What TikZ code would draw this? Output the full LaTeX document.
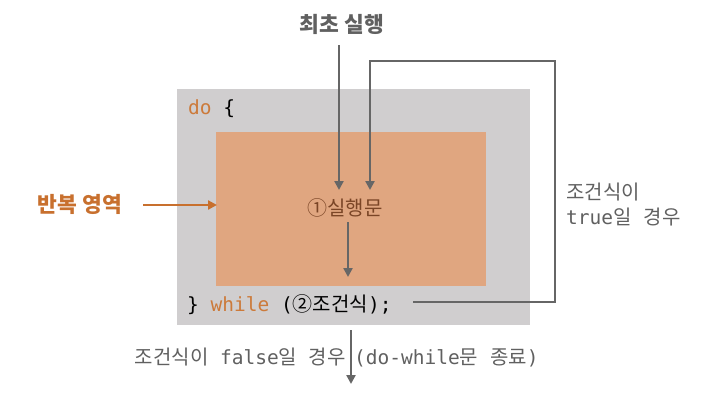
\documentclass[tikz,border=0pt]{standalone}
\usepackage{fontspec}
\setmainfont{Noto Sans CJK KR}
\newfontfamily\kr{Noto Sans CJK KR}
\setmonofont{DejaVu Sans Mono}
\usetikzlibrary{arrows.meta}
\definecolor{boxgray}{HTML}{D0CECF}
\definecolor{boxorange}{HTML}{E0A680}
\definecolor{kwor}{HTML}{CC7A3A}
\definecolor{lblor}{HTML}{C8702E}
\definecolor{arrgray}{HTML}{666666}
\definecolor{txtgray}{HTML}{606060}
\definecolor{brown}{HTML}{7A4526}
\newcommand{\krc}[1]{{\fontsize{20}{22}\selectfont\kr #1}}
\tikzset{
  conn/.style={draw=arrgray,line width=2.6pt,-{Triangle[length=9pt,width=9pt]}},
  lbl/.style={inner sep=0pt,font=\fontsize{20}{24}\selectfont\kr,text=txtgray},
  code/.style={inner sep=0pt,font=\fontsize{19.5}{22}\selectfont\ttfamily,anchor=base west},
}
\begin{document}
\begin{tikzpicture}[x=1pt,y=-1pt]
\useasboundingbox (0,0) rectangle (709,400);
% boxes
\fill[boxgray] (177,89) rectangle (530,325);
\fill[boxorange] (216,132) rectangle (486,286);
% code
\node[code] (do) at (188,114) {\textcolor{kwor}{do} \{};
\node[code] (wh) at (187,311) {\} \textcolor{kwor}{while} (\krc{②조건식});};
% labels
\node[lbl,font=\fontsize{21.5}{24}\selectfont\kr\bfseries] (first) at (342,24) {최초 실행};
\node[lbl,text=brown,font=\fontsize{20}{24}\selectfont\kr] (stmt) at (345,208) {①실행문};
\node[lbl,text=lblor,font=\fontsize{21.5}{24}\selectfont\kr\bfseries] (rep) at (80,204) {반복 영역};
\node[lbl,anchor=west,align=left,font=\fontsize{20}{25}\selectfont\kr] (tru) at (566,205) {조건식이\\{\fontsize{19.5}{25}\selectfont\ttfamily true}일\texttt{ }경우};
\node[lbl,anchor=base east,font=\fontsize{20}{24}\selectfont\kr] (fal) at (346,364) {조건식이{\fontsize{19.5}{24}\selectfont\ttfamily\ false}일{\fontsize{19.5}{24}\selectfont\ttfamily\ }경우};
\node[lbl,anchor=base west,font=\fontsize{20}{24}\selectfont\kr] (end) at (354,364) {{\fontsize{19.5}{24}\selectfont\ttfamily (do-while}문{\fontsize{19.5}{24}\selectfont\ttfamily\ }종료{\fontsize{19.5}{24}\selectfont\ttfamily )}};
% coordinates
\coordinate (a1s) at (339,45);
\coordinate (a1e) at (339,190);
\coordinate (lpS) at (413,302);
\coordinate (lpR) at (555,302);
\coordinate (lpT) at (555,61);
\coordinate (lpL) at (370,61);
\coordinate (lpE) at (370,190);
\coordinate (a3s) at (348,222);
\coordinate (a3e) at (348,277);
\coordinate (reps) at (143,205);
\coordinate (repe) at (217,205);
\coordinate (bs) at (351,330);
\coordinate (be) at (351,384);
% connectors
\draw[conn] (a1s) -- (a1e);
\draw[conn] (lpS) -- (lpR) -- (lpT) -- (lpL) -- (lpE);
\draw[conn] (a3s) -- (a3e);
\draw[conn,draw=lblor,fill=lblor] (reps) -- (repe);
\draw[conn] (bs) -- (be);
\end{tikzpicture}
\end{document}
